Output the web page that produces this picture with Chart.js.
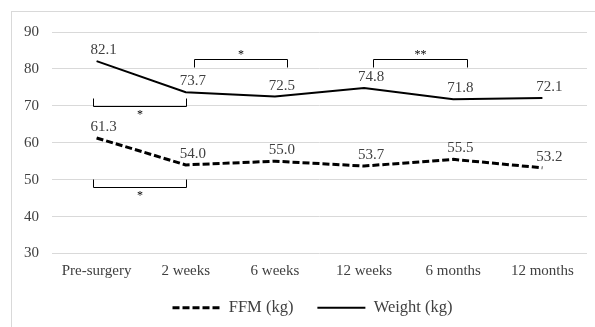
<!DOCTYPE html>
<html>
<head>
<meta charset="utf-8">
<script src="https://cdn.jsdelivr.net/npm/chart.js@4"></script>
<style>
  html,body{margin:0;padding:0;background:#fff;overflow:hidden}
  #wrap{position:relative;width:595px;height:327px;overflow:hidden}
  #frame{position:absolute;left:11px;top:11px;width:700px;height:400px;border:1px solid #d9d9d9}
  canvas{position:absolute;left:0;top:0}
</style>
</head>
<body>
<div id="wrap"><div id="frame"></div><canvas id="chart" width="595" height="327"></canvas></div>
<script>
/* data */
const labels = ['Pre-surgery','2 weeks','6 weeks','12 weeks','6 months','12 months'];
const ffm    = [61.3, 54.0, 55.0, 53.7, 55.5, 53.2];
const weight = [82.1, 73.7, 72.5, 74.8, 71.8, 72.1];
const yTicks = [30, 40, 50, 60, 70, 80, 90];

// significance brackets: category span, value level, which way the ends point
const brackets = [
  {from:-0.04, to:1.0,  at:70,   ends:'up',   mark:'*'},
  {from:1.09,  to:2.13, at:82.7, ends:'down', mark:'*'},
  {from:3.10,  to:4.15, at:82.7, ends:'down', mark:'**'},
  {from:-0.04, to:1.0,  at:47.9, ends:'up',   mark:'*'}
];

const SERIF = '"Liberation Serif", "Times New Roman", serif';
const TXT = '#404040';

/* value labels above each point */
const valueLabels = {
  id:'valueLabels',
  afterDatasetsDraw(chart){
    const ctx = chart.ctx;
    ctx.save();
    ctx.font = '15px ' + SERIF;
    ctx.fillStyle = TXT;
    ctx.textAlign = 'center';
    ctx.textBaseline = 'middle';
    chart.data.datasets.forEach((ds,i)=>{
      chart.getDatasetMeta(i).data.forEach((pt,j)=>{
        ctx.fillText(ds.data[j].toFixed(1), pt.x + 7, pt.y - 11);
      });
    });
    ctx.restore();
  }
};

/* brackets with asterisks */
const sigBrackets = {
  id:'sigBrackets',
  afterDatasetsDraw(chart){
    const {ctx, scales:{x, y}} = chart;
    ctx.save();
    ctx.strokeStyle = '#000';
    ctx.lineWidth = 1;
    ctx.fillStyle = '#000';
    ctx.font = '12px ' + SERIF;
    ctx.textAlign = 'center';
    ctx.textBaseline = 'middle';
    brackets.forEach(b=>{
      const x0 = Math.round(x.getPixelForValue(b.from)) + 0.5;
      const x1 = Math.round(x.getPixelForValue(b.to)) + 0.5;
      const yy = Math.round(y.getPixelForValue(b.at)) + 0.5;
      const d = b.ends === 'up' ? -8 : 8;
      ctx.beginPath();
      ctx.moveTo(x0, yy + d); ctx.lineTo(x0, yy); ctx.lineTo(x1, yy); ctx.lineTo(x1, yy + d);
      ctx.stroke();
      ctx.fillText(b.mark, (x0 + x1) / 2, b.ends === 'up' ? yy + 8 : yy - 5);
    });
    ctx.restore();
  }
};

// legend in the figure sits a bit right of the canvas middle and tight under the labels
const legendShift = {
  id:'legendShift',
  afterLayout(chart){
    const lg = chart.legend;
    lg.left += 19; lg.right += 19;
    lg.top -= 6; lg.bottom -= 6;
  }
};

new Chart(document.getElementById('chart').getContext('2d'), {
  type:'line',
  data:{
    labels: labels,
    datasets:[
      {label:'FFM (kg)', data:ffm, borderColor:'#000', backgroundColor:'#000', borderWidth:3, borderDash:[7,3], pointRadius:0, tension:0},
      {label:'Weight (kg)', data:weight, borderColor:'#000', backgroundColor:'#000', borderWidth:2, pointRadius:0, tension:0}
    ]
  },
  options:{
    responsive:false,
    animation:false,
    layout:{padding:{left:0, right:8, top:32, bottom:-5}},
    scales:{
      x:{
        offset:true,
        grid:{display:false, drawTicks:false},
        border:{display:false},
        ticks:{color:TXT, font:{family:SERIF, size:15}, padding:9, maxRotation:0},
        afterFit: s => { s.height = 28; }
      },
      y:{
        min: yTicks[0], max: yTicks[yTicks.length-1],
        grid:{color:'#d9d9d9', drawTicks:false},
        border:{display:false},
        ticks:{stepSize:10, color:TXT, font:{family:SERIF, size:15}, padding:13},
        afterFit: s => { s.width = 52; }
      }
    },
    plugins:{
      legend:{
        position:'bottom',
        labels:{
          usePointStyle:true, pointStyle:'line', pointStyleWidth:48, color:TXT,
          font:{family:SERIF, size:16.5}, padding:24,
          generateLabels: chart => Chart.defaults.plugins.legend.labels.generateLabels(chart)
            .map(l => ({...l, lineDash: chart.data.datasets[l.datasetIndex].borderDash || []}))
        }
      },
      tooltip:{enabled:false}
    }
  },
  plugins:[valueLabels, sigBrackets, legendShift]
});
</script>
</body>
</html>
